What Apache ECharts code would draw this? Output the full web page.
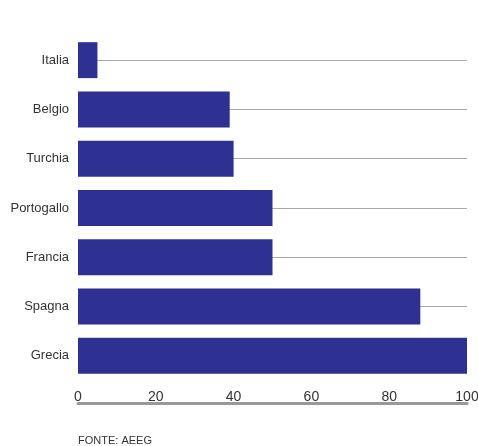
<!DOCTYPE html>
<html>
<head>
<meta charset="utf-8">
<script src="https://cdn.jsdelivr.net/npm/echarts@6/dist/echarts.min.js"></script>
<style>html,body{margin:0;padding:0;background:#fff}#c{width:478px;height:446px}</style>
</head>
<body>
<div id="c"></div>
<script>
var categories = ['Italia', 'Belgio', 'Turchia', 'Portogallo', 'Francia', 'Spagna', 'Grecia'];
var values = [5, 39, 40, 50, 50, 88, 100];
var xTicks = [0, 20, 40, 60, 80, 100];
var source = 'FONTE: AEEG';

var chart = echarts.init(document.getElementById('c'), null, {renderer: 'canvas'});
chart.setOption({
  animation: false,
  backgroundColor: '#ffffff',
  textStyle: {fontFamily: 'Liberation Sans, Arial, sans-serif'},
  grid: {left: 78, right: 11, top: 35.5, bottom: 65.5, containLabel: false, outerBoundsMode: 'none'},
  title: {
    text: source, left: 78, top: 435, padding: 0,
    textStyle: {fontSize: 11, fontWeight: 'normal', color: '#333', fontFamily: 'Liberation Sans, Arial, sans-serif'}
  },
  xAxis: {
    type: 'value', min: xTicks[0], max: xTicks[xTicks.length - 1], interval: 20,
    position: 'bottom', offset: 23,
    axisLine: {show: true, lineStyle: {color: '#999', width: 3}},
    axisTick: {show: false},
    splitLine: {show: false},
    axisLabel: {inside: true, margin: -1, fontSize: 14, color: '#333', fontFamily: 'Liberation Sans, Arial, sans-serif'}
  },
  yAxis: {
    type: 'category', data: categories, inverse: true,
    axisLine: {show: false}, axisTick: {show: false}, splitLine: {show: false},
    axisLabel: {margin: 9, fontSize: 13, color: '#333', fontFamily: 'Liberation Sans, Arial, sans-serif'}
  },
  series: [{
    type: 'bar', data: values, barCategoryGap: '27%', z: 3,
    itemStyle: {color: '#2e3192'},
    markLine: {
      silent: true, symbol: 'none', z: 1,
      label: {show: false},
      lineStyle: {color: '#aaa', type: 'solid', width: 1},
      data: categories.map(function (c) { return {yAxis: c}; })
    }
  }]
});
</script>
</body>
</html>
